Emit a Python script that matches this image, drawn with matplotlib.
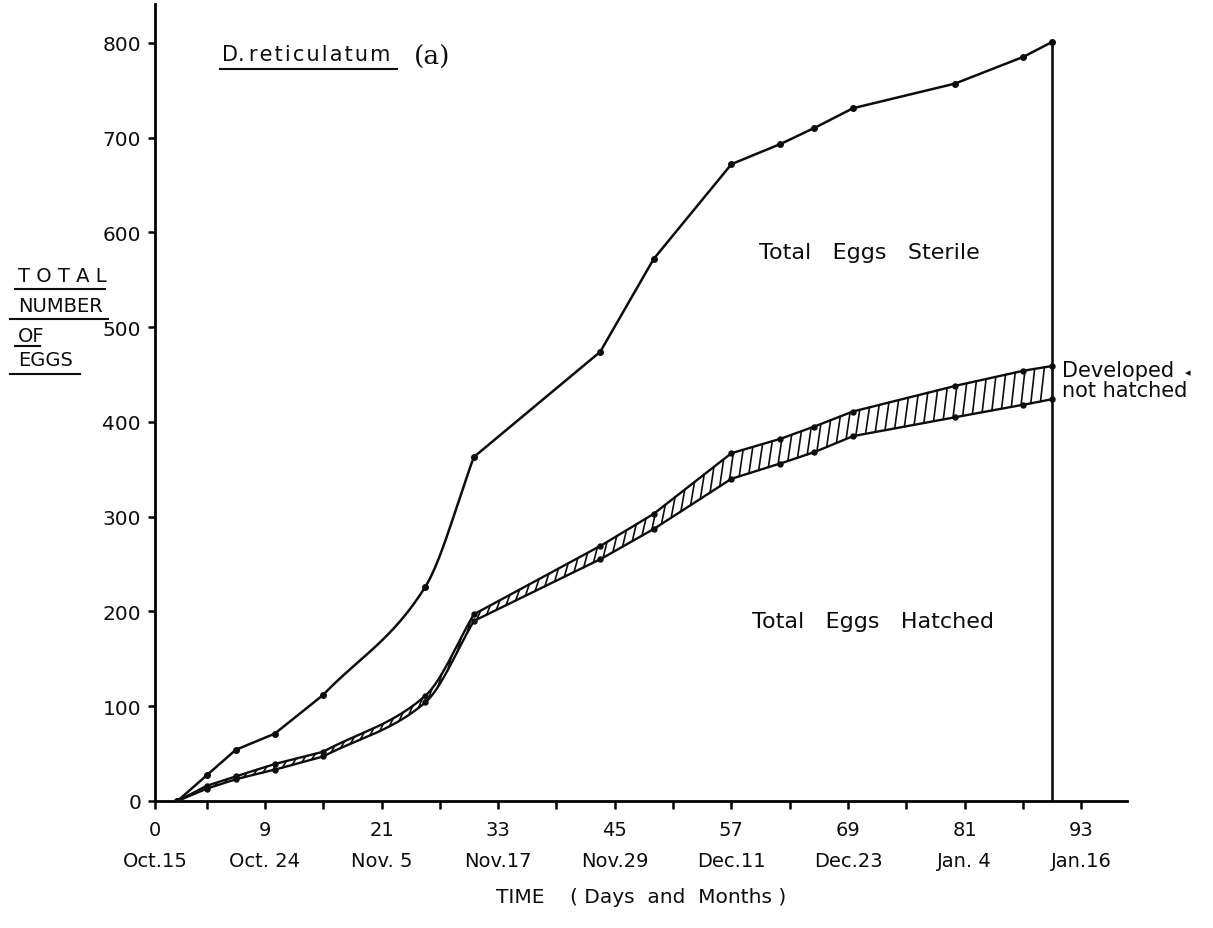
import numpy as np
import matplotlib
matplotlib.use("Agg")
import matplotlib.pyplot as plt
from matplotlib.lines import Line2D

# Observation days (day 0 = Oct. 15)
days = [0, 3, 6, 10, 15, 25.5, 30.5, 43.5, 49, 57, 62, 65.5, 69.5, 80, 87, 90]
# Cumulative totals
total_eggs = [0, 27, 54, 71, 112, 226, 363, 474, 572, 672, 693, 710, 731, 757, 785, 801]
developed_eggs = [0, 16, 26, 39, 52, 111, 197, 269, 303, 367, 382, 395, 411, 438, 454, 459]
hatched_eggs = [0, 13, 23, 33, 47, 104, 190, 255, 287, 340, 356, 368, 385, 405, 418, 424]

# Axis ticks and labels
y_ticks = [0, 100, 200, 300, 400, 500, 600, 700, 800]
label_days = [9, 21, 33, 45, 57, 69, 81, 93]
minor_days = [3, 15, 27, 39, 51, 63, 75, 87]
day_labels = ["9", "21", "33", "45", "57", "69", "81", "93"]
date_labels = ["Oct. 24", "Nov. 5", "Nov.17", "Nov.29", "Dec.11", "Dec.23", "Jan. 4", "Jan.16"]
origin_day_label = "0"
origin_date_label = "Oct.15"


def monotone_curve(x, y, breaks=(), n=40):
    """Monotone (Fritsch-Carlson) path through the points, with sharp corners at `breaks`."""
    x = np.asarray(x, float)
    y = np.asarray(y, float)
    cuts = [0] + sorted(breaks) + [len(x) - 1]
    xs_all, ys_all = [], []
    for a, b in zip(cuts[:-1], cuts[1:]):
        px, py = x[a:b + 1], y[a:b + 1]
        h = np.diff(px)
        delta = np.diff(py) / h
        m = len(px)
        d = np.zeros(m)
        d[0], d[-1] = delta[0], delta[-1]
        for k in range(1, m - 1):
            if delta[k - 1] * delta[k] > 0:
                w1 = 2 * h[k] + h[k - 1]
                w2 = h[k] + 2 * h[k - 1]
                d[k] = (w1 + w2) / (w1 / delta[k - 1] + w2 / delta[k])
        for k in range(m - 1):
            t = np.linspace(0, 1, n)
            h00 = 2 * t**3 - 3 * t**2 + 1
            h10 = t**3 - 2 * t**2 + t
            h01 = -2 * t**3 + 3 * t**2
            h11 = t**3 - t**2
            xs_all.append(px[k] + t * h[k])
            ys_all.append(h00 * py[k] + h10 * h[k] * d[k] + h01 * py[k + 1] + h11 * h[k] * d[k + 1])
    return np.concatenate(xs_all), np.concatenate(ys_all)


W, H = 1213, 929
fig = plt.figure(figsize=(W / 100, H / 100), dpi=100)
fig.patch.set_facecolor("white")

x_left, x_right, y_bottom, y_top = 155, 1127, 802, 5
ax = fig.add_axes([x_left / W, 1 - y_bottom / H, (x_right - x_left) / W, (y_bottom - y_top) / H])
ax.set_xlim(-2.31, 97.7)
ax.set_ylim(0, 841)

for side in ("top", "right"):
    ax.spines[side].set_visible(False)
for side in ("left", "bottom"):
    ax.spines[side].set_linewidth(2.0)
    ax.spines[side].set_color("black")

ink = "#0d0d0d"
txt_kw = dict(family="DejaVu Sans", color=ink)

# Sharp corners everywhere except the rounded bend through the day-25.5 reading
corners = [i for i in range(1, len(days) - 1) if i != 5]

# Total laid (upper curve)
sx, sy = monotone_curve(days, total_eggs, corners)
ax.plot(sx, sy, color=ink, lw=1.8, zorder=3)
ax.plot(days, total_eggs, ls="none", color=ink, marker="o", ms=4, zorder=4)

# Developed and hatched boundaries of the band
dx, dy = monotone_curve(days, developed_eggs, corners)
hx, hy = monotone_curve(days, hatched_eggs, corners)
ax.plot(dx, dy, color=ink, lw=1.7, zorder=3)
ax.plot(hx, hy, color=ink, lw=1.7, zorder=3)
ax.plot(days, developed_eggs, ls="none", color=ink, marker="o", ms=3.6, zorder=4)
ax.plot(days, hatched_eggs, ls="none", color=ink, marker="o", ms=3.6, zorder=4)

# Hatching for "developed, not hatched"
for d0 in np.arange(0.8, days[-1] - 0.2, 1.0):
    d1 = min(d0 + 0.4, days[-1])
    ax.plot([d0, d1], [np.interp(d0, hx, hy), np.interp(d1, dx, dy)],
            color=ink, lw=1.2, zorder=2)

# Closing vertical line at the last observation
ax.vlines(days[-1], 0, total_eggs[-1], color=ink, lw=1.9, zorder=3)

# Ticks
ax.set_yticks(y_ticks)
ax.set_yticklabels([str(v) for v in y_ticks], fontsize=14.5, **txt_kw)
ax.tick_params(axis="y", direction="out", length=5, width=1.8, pad=5)
ax.set_xticks([ax.get_xlim()[0]] + label_days)
ax.set_xticklabels([f"{origin_day_label}\n{origin_date_label}"] +
                   [f"{a}\n{b}" for a, b in zip(day_labels, date_labels)],
                   fontsize=14, linespacing=1.8, **txt_kw)
ax.set_xticks(minor_days, minor=True)
ax.tick_params(axis="x", which="both", direction="out", length=6, width=1.8, pad=8)

ax.set_xlabel("TIME    ( Days  and  Months )", fontsize=14.5, labelpad=12, **txt_kw)

# Region labels
ax.text(71.2, 579, "Total   Eggs   Sterile", fontsize=16, ha="center", va="center", **txt_kw)
ax.text(71.6, 190, "Total   Eggs   Hatched", fontsize=16, ha="center", va="center", **txt_kw)
ax.text(91.0, 455, "Developed", fontsize=15, ha="left", va="center", **txt_kw)
ax.text(103.7, 453, "\u25C2", fontsize=8, ha="left", va="center", clip_on=False, **txt_kw)
ax.text(91.0, 434, "not hatched", fontsize=15, ha="left", va="center", **txt_kw)

# Species title, underlined
fig.text(222 / W, 1 - 55 / H, "D.\u200a\u200ar\u200ae\u200at\u200ai\u200ac\u200au\u200al\u200aa\u200at\u200au\u200am",
         fontsize=15, ha="left", va="center", **txt_kw)
fig.add_artist(Line2D([220 / W, 397 / W], [1 - 70 / H, 1 - 70 / H], color=ink, lw=1.5))
fig.text(414 / W, 1 - 57 / H, "(a)", fontsize=19, ha="left", va="center",
         family="DejaVu Serif", color=ink)

# Stacked, underlined y-axis label
ylabel_rows = [("T O T A L", 276, 290, 15, 105),
               ("NUMBER", 307, 320, 10, 108),
               ("OF", 337, 347, 15, 40),
               ("EGGS", 361, 375, 10, 80)]
for text, yc, yu, ux0, ux1 in ylabel_rows:
    fig.text(18 / W, 1 - yc / H, text, fontsize=14, ha="left", va="center", **txt_kw)
    fig.add_artist(Line2D([ux0 / W, ux1 / W], [1 - yu / H, 1 - yu / H], color=ink, lw=1.5))

fig.savefig("out.png", dpi=100, facecolor="white")
